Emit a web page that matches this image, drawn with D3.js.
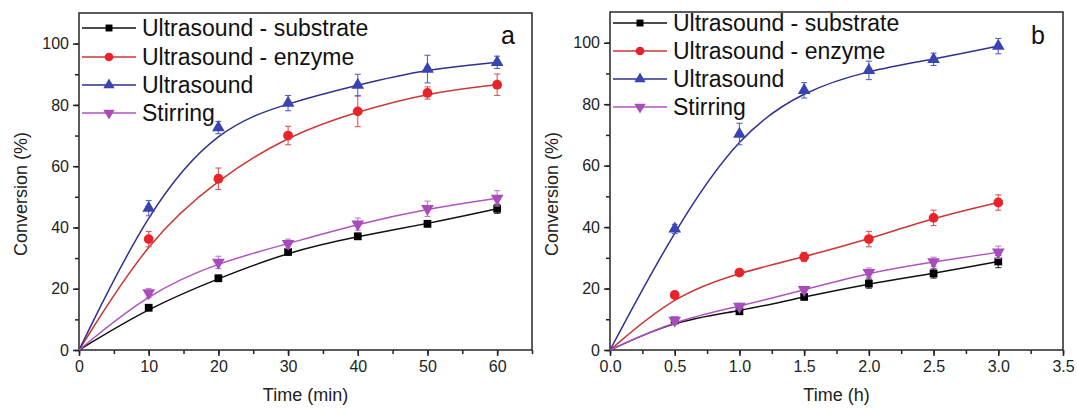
<!DOCTYPE html>
<html>
<head>
<meta charset="utf-8">
<script src="https://cdn.jsdelivr.net/npm/d3@7"></script>
<style>
  body { margin: 0; background: #fff; }
  svg { font-family: Arial, "Liberation Sans", sans-serif; }
</style>
</head>
<body>
<svg id="chart" width="1077" height="408"></svg>
<script>
const SVG = d3.select("#chart");

// panel a (time in min)
const timeA = [10, 20, 30, 40, 50, 60];
const subA = [13.8, 23.4, 32.0, 37.1, 41.2, 46.1];
const subAErr = [1, 1, 1, 1, 1, 1.5];
const enzA = [36.2, 55.9, 70.0, 77.9, 83.9, 86.6];
const enzAErr = [2.5, 3.5, 3, 5, 2, 3.5];
const usA = [46.3, 72.6, 80.6, 86.5, 91.7, 93.9];
const usAErr = [2.5, 2, 2.5, 3.5, 4.5, 2];
const stirA = [18.6, 28.6, 34.7, 41.1, 46.1, 49.5];
const stirAErr = [1.5, 2, 1.5, 2, 2.5, 2.5];

// panel b (time in h)
const timeB = [0.5, 1.0, 1.5, 2.0, 2.5, 3.0];
const subB = [9.6, 12.6, 17.3, 21.6, 24.9, 28.8];
const subBErr = [1, 1, 1, 1.5, 1.5, 2];
const enzB = [17.9, 25.2, 30.3, 36.1, 43.0, 48.0];
const enzBErr = [1, 1, 1.5, 2.5, 2.5, 2.5];
const usB = [39.4, 70.3, 84.5, 91.0, 94.6, 98.9];
const usBErr = [1.5, 3.5, 2.5, 3, 2, 2.5];
const stirB = [9.6, 14.2, 19.6, 25.2, 28.7, 31.8];
const stirBErr = [1, 1, 1, 1.5, 1.5, 2];

const seriesNames = ["Ultrasound - substrate", "Ultrasound - enzyme", "Ultrasound", "Stirring"];
const yTicks = [0, 20, 40, 60, 80, 100];
const xTicksA = [0, 10, 20, 30, 40, 50, 60];
const xTicksB = [0, 0.5, 1.0, 1.5, 2.0, 2.5, 3.0, 3.5];

const STYLES = [
  { line: "#111", mark: "#000", err: "#333", sym: d3.symbolSquare, size: 60, rot: 0 },
  { line: "#cf3535", mark: "#e8242a", err: "#d9585a", sym: d3.symbolCircle, size: 75, rot: 0 },
  { line: "#2d3190", mark: "#3943b2", err: "#5a62c0", sym: d3.symbolTriangle, size: 70, rot: 0 },
  { line: "#b052c0", mark: "#a84bbb", err: "#c07ccc", sym: d3.symbolTriangle, size: 70, rot: 180 },
];

const PANELS = [
  {
    left: 79, right: 532, top: 13, bottom: 350,
    xMax: 65, xTicks: xTicksA, xMinor: 5, xFmt: d3.format("d"),
    time: timeA,
    series: [[subA, subAErr], [enzA, enzAErr], [usA, usAErr], [stirA, stirAErr]],
    xLabel: "Time (min)", tag: "a", tagX: 508,
    legX: 82, legY: [28, 57, 85, 113], yLabX: 21,
  },
  {
    left: 610, right: 1063, top: 12, bottom: 350,
    xMax: 3.5, xTicks: xTicksB, xMinor: 0.25, xFmt: d3.format(".1f"),
    time: timeB,
    series: [[subB, subBErr], [enzB, enzBErr], [usB, usBErr], [stirB, stirBErr]],
    xLabel: "Time (h)", tag: "b", tagX: 1038,
    legX: 613, legY: [23, 51, 79, 107], yLabX: 552,
  },
];

const drawPanel = (p) => {
  const xScale = d3.scaleLinear().domain([0, p.xMax]).range([p.left, p.right]);
  const yScale = d3.scaleLinear().domain([0, 110]).range([p.bottom, p.top]);
  const g = SVG.append("g");

  // axes
  const minorX = d3.range(0, p.xMax + 1e-9, p.xMinor);
  g.append("g")
    .attr("transform", "translate(0," + p.bottom + ")")
    .call(d3.axisBottom(xScale).tickValues(minorX).tickSize(4).tickFormat(""))
    .call((a) => a.select(".domain").remove());
  g.append("g")
    .attr("transform", "translate(0," + p.bottom + ")")
    .call(d3.axisBottom(xScale).tickValues(p.xTicks).tickSize(6).tickPadding(5).tickFormat(p.xFmt))
    .call((a) => a.select(".domain").remove())
    .call((a) => a.selectAll("text").attr("font-size", 16).attr("fill", "#222"));
  g.append("g")
    .attr("transform", "translate(" + p.left + ",0)")
    .call(d3.axisLeft(yScale).tickValues(d3.range(0, 101, 10)).tickSize(4).tickFormat(""))
    .call((a) => a.select(".domain").remove());
  g.append("g")
    .attr("transform", "translate(" + p.left + ",0)")
    .call(d3.axisLeft(yScale).tickValues(yTicks).tickSize(6).tickPadding(4))
    .call((a) => a.select(".domain").remove())
    .call((a) => a.selectAll("text").attr("font-size", 16).attr("fill", "#222"));
  g.selectAll(".tick line").attr("stroke", "#222").attr("stroke-width", 1.5);

  g.append("rect")
    .attr("x", p.left)
    .attr("y", p.top)
    .attr("width", p.right - p.left)
    .attr("height", p.bottom - p.top)
    .attr("fill", "none")
    .attr("stroke", "#333")
    .attr("stroke-width", 1.6);

  // curves, error bars, markers
  p.series.forEach(([vals, errs], k) => {
    const st = STYLES[k];
    const pts = [[0, 0]].concat(p.time.map((t, i) => [t, vals[i]]));
    g.append("path")
      .datum(pts)
      .attr("d", d3.line().x((d) => xScale(d[0])).y((d) => yScale(d[1])).curve(d3.curveBasis))
      .attr("fill", "none")
      .attr("stroke", st.line)
      .attr("stroke-width", 1.5);

    const eb = g.append("g").attr("stroke", st.err).attr("stroke-width", 1.1);
    p.time.forEach((t, i) => {
      const x = xScale(t);
      const y1 = yScale(vals[i] - errs[i]);
      const y2 = yScale(vals[i] + errs[i]);
      eb.append("line").attr("x1", x).attr("x2", x).attr("y1", y1).attr("y2", y2);
      eb.append("line").attr("x1", x - 3).attr("x2", x + 3).attr("y1", y1).attr("y2", y1);
      eb.append("line").attr("x1", x - 3).attr("x2", x + 3).attr("y1", y2).attr("y2", y2);
    });

    g.selectAll(null)
      .data(p.time.map((t, i) => [t, vals[i]]))
      .join("path")
      .attr("d", d3.symbol().type(st.sym).size(st.size))
      .attr("transform", (d) => "translate(" + xScale(d[0]) + "," + yScale(d[1]) + ") rotate(" + st.rot + ")")
      .attr("fill", st.mark);
  });

  // legend
  seriesNames.forEach((name, k) => {
    const st = STYLES[k];
    const y = p.legY[k];
    g.append("line")
      .attr("x1", p.legX).attr("x2", p.legX + 54)
      .attr("y1", y).attr("y2", y)
      .attr("stroke", st.line).attr("stroke-width", 1.6);
    g.append("path")
      .attr("d", d3.symbol().type(st.sym).size(st.size * 0.8))
      .attr("transform", "translate(" + (p.legX + 27) + "," + y + ") rotate(" + st.rot + ")")
      .attr("fill", st.mark);
    g.append("text")
      .attr("x", p.legX + 60)
      .attr("y", y + 8)
      .attr("font-size", 23)
      .attr("fill", "#111")
      .text(name);
  });

  g.append("text")
    .attr("x", p.tagX)
    .attr("y", 44)
    .attr("text-anchor", "middle")
    .attr("font-size", 25)
    .attr("fill", "#111")
    .text(p.tag);

  g.append("text")
    .attr("x", (p.left + p.right) / 2)
    .attr("y", 401)
    .attr("text-anchor", "middle")
    .attr("font-size", 18)
    .attr("fill", "#222")
    .text(p.xLabel);

  g.append("text")
    .attr("text-anchor", "middle")
    .attr("transform", "translate(" + (p.yLabX + 6) + ",194) rotate(-90)")
    .attr("font-size", 18)
    .attr("fill", "#222")
    .text("Conversion (%)");
};

PANELS.forEach(drawPanel);
</script>
</body>
</html>
